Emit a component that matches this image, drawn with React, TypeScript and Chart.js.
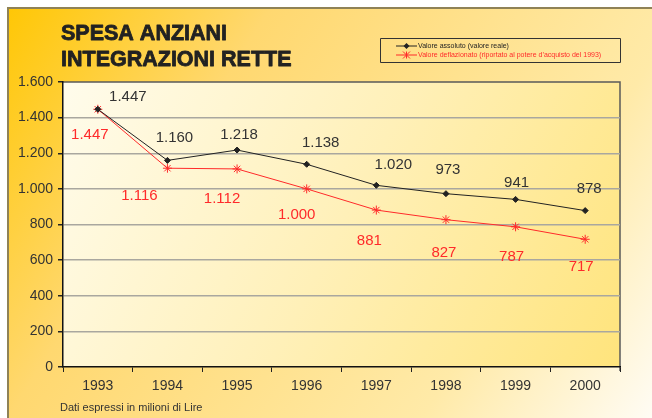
import React, { useEffect, useRef } from "react";
import { Chart, registerables } from "chart.js";

Chart.register(...registerables);

const years = ["1993", "1994", "1995", "1996", "1997", "1998", "1999", "2000"];
const valoreAssoluto = [1447, 1160, 1218, 1138, 1020, 973, 941, 878];
const valoreDeflazionato = [1447, 1116, 1112, 1000, 881, 827, 787, 717];
const titleLines = ["SPESA ANZIANI", "INTEGRAZIONI RETTE"];
const legendLabels = [
  "Valore assoluto (valore reale)",
  "Valore deflazionato (riportato al potere d\u2019acquisto del 1993)",
];
const footnote = "Dati espressi in milioni di Lire";
const yMin = 0;
const yMax = 1600;
const yStep = 200;

const FONT = "'Liberation Sans', Arial, Helvetica, sans-serif";
const BLACK = "#222222";
const RED = "#ff2a2a";

// label placement nudges (as in the original, labels were hand-placed)
const blackNudge = [
  [30, -12], [7, -23], [2, -15], [14, -21], [17, -20], [2, -24], [1, -17], [4, -22],
];
const redNudge = [
  [-8, 26], [-28, 28], [-15, 30], [-10, 26], [-7, 31], [-2, 33], [-4, 30], [-4, 28],
];

const fmt = (v: number) => String(v).replace(/\B(?=(\d{3})+(?!\d))/g, ".");

function drawMarker(ctx: CanvasRenderingContext2D, style: string, x: number, y: number, color: string) {
  ctx.save();
  ctx.strokeStyle = color;
  ctx.fillStyle = color;
  ctx.lineWidth = 1;
  if (style === "rectRot") {
    const r = 3;
    ctx.beginPath();
    ctx.moveTo(x, y - r);
    ctx.lineTo(x + r, y);
    ctx.lineTo(x, y + r);
    ctx.lineTo(x - r, y);
    ctx.closePath();
    ctx.fill();
  } else {
    const r = 3.5;
    ctx.beginPath();
    ctx.moveTo(x - r, y - r);
    ctx.lineTo(x + r, y + r);
    ctx.moveTo(x + r, y - r);
    ctx.lineTo(x - r, y + r);
    ctx.moveTo(x, y - r);
    ctx.lineTo(x, y + r);
    ctx.stroke();
  }
  ctx.restore();
}

const decorPlugin = {
  id: "decor",
  beforeDraw(chart: any) {
    const { ctx, width, height, chartArea } = chart;
    ctx.save();
    ctx.fillStyle = "#ffffff";
    ctx.fillRect(0, 0, width, height);
    const g = ctx.createLinearGradient(0, 0, width, height);
    g.addColorStop(0, "#ffc600");
    g.addColorStop(0.3, "#ffd870");
    g.addColorStop(0.75, "#ffeaa8");
    g.addColorStop(1, "#fffcf4");
    ctx.fillStyle = g;
    ctx.fillRect(8, 9, width - 8, height - 9);
    ctx.strokeStyle = "#8f8256";
    ctx.lineWidth = 2;
    ctx.beginPath();
    ctx.moveTo(8, height);
    ctx.lineTo(8, 8);
    ctx.lineTo(width, 8);
    ctx.stroke();
    const { left, top, right, bottom } = chartArea;
    const pg = ctx.createLinearGradient(left, top, right, bottom);
    pg.addColorStop(0, "#fffcec");
    pg.addColorStop(0.5, "#fff0b8");
    pg.addColorStop(1, "#ffe47c");
    ctx.fillStyle = pg;
    ctx.fillRect(left, top, right - left, bottom - top);
    ctx.strokeStyle = "#5a5a5a";
    ctx.lineWidth = 1.5;
    ctx.beginPath();
    ctx.moveTo(left, top);
    ctx.lineTo(right, top);
    ctx.lineTo(right, bottom + 4);
    ctx.stroke();
    ctx.restore();
  },
  afterDraw(chart: any) {
    const { ctx } = chart;
    ctx.save();
    ctx.fillStyle = "#222222";
    ctx.strokeStyle = "#222222";
    ctx.lineWidth = 0.8;
    ctx.lineJoin = "round";
    ctx.font = `bold 21.5px ${FONT}`;
    ctx.textAlign = "left";
    ctx.textBaseline = "alphabetic";
    ctx.fillText(titleLines[0], 61, 40);
    ctx.strokeText(titleLines[0], 61, 40);
    ctx.fillText(titleLines[1], 61, 66);
    ctx.strokeText(titleLines[1], 61, 66);
    ctx.font = `11px ${FONT}`;
    ctx.fillStyle = "#333333";
    ctx.fillText(footnote, 60, 411);
    ctx.strokeStyle = "#333333";
    ctx.lineWidth = 1;
    ctx.strokeRect(380.5, 38.5, 240, 24);
    const rows = [
      { y: 46, color: BLACK, style: "rectRot", text: legendLabels[0] },
      { y: 55, color: RED, style: "star", text: legendLabels[1] },
    ];
    ctx.font = `7px ${FONT}`;
    ctx.textBaseline = "middle";
    rows.forEach((r) => {
      ctx.strokeStyle = r.color;
      ctx.lineWidth = 1;
      ctx.beginPath();
      ctx.moveTo(396, r.y);
      ctx.lineTo(417, r.y);
      ctx.stroke();
      drawMarker(ctx, r.style, 406.5, r.y, r.color);
      ctx.fillStyle = r.color;
      ctx.fillText(r.text, 418, r.y + 0.5);
    });
    ctx.restore();
  },
  afterDatasetsDraw(chart: any) {
    const { ctx } = chart;
    ctx.save();
    ctx.font = `15px ${FONT}`;
    ctx.textAlign = "center";
    ctx.textBaseline = "middle";
    const m0 = chart.getDatasetMeta(0);
    const m1 = chart.getDatasetMeta(1);
    m0.data.forEach((p: any, i: number) => {
      const [dx, dy] = blackNudge[i] || [6, -20];
      ctx.fillStyle = "#333333";
      ctx.fillText(fmt(valoreAssoluto[i]), p.x + dx, p.y + dy);
    });
    m1.data.forEach((p: any, i: number) => {
      const [dx, dy] = redNudge[i] || [-5, 29];
      ctx.fillStyle = RED;
      ctx.fillText(fmt(valoreDeflazionato[i]), p.x + dx, p.y + dy);
    });
    ctx.restore();
  },
};

export default function App() {
  const ref = useRef<HTMLCanvasElement | null>(null);
  useEffect(() => {
    if (!ref.current) return;
    const chart = new Chart(ref.current, {
      type: "line",
      data: {
        labels: years,
        datasets: [
          {
            label: legendLabels[0],
            data: valoreAssoluto,
            borderColor: BLACK,
            backgroundColor: BLACK,
            borderWidth: 1,
            pointStyle: "rectRot",
            pointRadius: 3,
            pointBorderWidth: 1,
            tension: 0,
          },
          {
            label: legendLabels[1],
            data: valoreDeflazionato,
            borderColor: RED,
            backgroundColor: RED,
            borderWidth: 1,
            pointStyle: "star",
            pointRadius: 4.5,
            pointBorderWidth: 1,
            tension: 0,
          },
        ],
      },
      options: {
        responsive: false,
        animation: false,
        layout: { padding: { left: 0, top: 82, right: 32, bottom: 0 } },
        plugins: {
          legend: { display: false },
          title: { display: false },
          tooltip: { enabled: false },
        },
        scales: {
          x: {
            type: "category",
            offset: true,
            afterFit: (s: any) => {
              s.height = 51;
            },
            grid: {
              display: true,
              offset: true,
              drawOnChartArea: false,
              drawTicks: true,
              tickLength: 5,
              color: "#222222",
              lineWidth: 1,
            },
            border: { display: true, color: "#111111", width: 1.5 },
            ticks: {
              color: "#333333",
              font: { family: FONT, size: 14 },
              padding: 6,
              maxRotation: 0,
            },
          },
          y: {
            min: yMin,
            max: yMax,
            afterFit: (s: any) => {
              s.width = 63;
            },
            grid: {
              display: true,
              drawTicks: true,
              tickLength: 5,
              color: (c: any) =>
                c.tick && (c.tick.value === yMin || c.tick.value === yMax) ? "rgba(0,0,0,0)" : "#a9a79f",
              tickColor: "#222222",
              lineWidth: 1.5,
            },
            border: { display: true, color: "#111111", width: 1.5 },
            ticks: {
              stepSize: yStep,
              color: "#333333",
              font: { family: FONT, size: 14 },
              padding: 5,
              callback: (v: any) => fmt(Number(v)),
            },
          },
        },
      },
      plugins: [decorPlugin],
    });
    return () => chart.destroy();
  }, []);
  return (
    <div style={{ position: "fixed", left: 0, top: 0, width: 652, height: 418 }}>
      <canvas ref={ref} width={652} height={418} style={{ display: "block" }} />
    </div>
  );
}
